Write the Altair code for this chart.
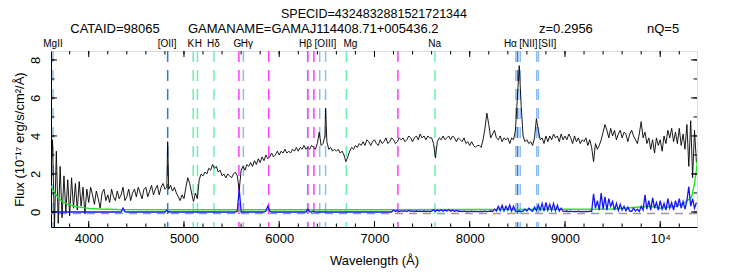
import altair as alt
import pandas as pd

# ---------------- data ----------------
WAVE_START = 3600
WAVE_STEP = 20

# observed flux (10^-17 erg/s/cm^2/A), 5 samples per 100 A, starting at 3600 A
FLUX = [
    1.5, 3.8, -0.9, 3.2, -0.6,   # 3600
    2.4, -0.3, 1.9, 0.0, 1.7,    # 3700
    -0.2, 1.8, 0.2, 1.5, 0.1,    # 3800
    1.6, 0.3, 1.3, -0.1, 1.2,    # 3900
    0.5, 1.3, 0.9, 0.4, 1.1,     # 4000
    0.7, 0.2, 1.0, 1.2, 0.6,     # 4100
    0.9, 0.5, 1.2, 0.8, 0.6,     # 4200
    1.1, 0.7, 0.9, 1.3, 0.6,     # 4300
    0.8, 1.2, 0.6, 1.0, 1.2,     # 4400
    0.8, 1.3, 1.0, 0.7, 1.2,     # 4500
    1.3, 0.8, 1.1, 1.4, 0.9,     # 4600
    1.2, 1.4, 0.9, 1.3, 1.5,     # 4700
    1.2, 1.3, 1.2, 1.4, 1.1,     # 4800
    1.3, 1.0, 0.8, 0.6, 0.9,     # 4900
    0.7, 1.3, 1.8, 1.5, 1.0,     # 5000
    0.55, 1.0, 0.7, 1.7, 2.0,    # 5100
    1.9, 2.1, 2.0, 2.3, 2.2,     # 5200
    2.5, 2.3, 2.4, 2.1, 2.2,     # 5300
    1.9, 2.0, 1.8, 2.0, 1.9,     # 5400
    1.8, 2.0, 2.1, 1.9, 1.15,    # 5500
    2.2, 2.4, 2.2, 2.5, 2.4,     # 5600
    2.6, 2.4, 2.7, 2.5, 2.8,     # 5700
    2.6, 2.9, 2.7, 3.0, 2.8,     # 5800
    2.9, 3.1, 2.9, 3.0, 3.2,     # 5900
    3.0, 3.2, 3.1, 3.3, 3.1,     # 6000
    3.2, 3.1, 3.3, 3.2, 3.4,     # 6100
    3.2, 3.4, 3.3, 3.5, 3.3,     # 6200
    3.4, 3.3, 3.5, 3.4, 3.3,     # 6300
    3.6, 4.2, 3.5, 3.6, 4.0,     # 6400
    3.7, 3.3, 3.4, 3.2, 3.3,     # 6500
    3.2, 3.3, 3.1, 3.2, 3.0,     # 6600
    2.65, 2.9, 3.2, 3.4, 3.3,    # 6700
    3.5, 3.4, 3.6, 3.5, 3.7,     # 6800
    3.5, 3.8, 3.7, 3.5, 3.7,     # 6900
    3.8, 3.6, 3.5, 3.8, 3.6,     # 7000
    3.7, 3.9, 3.6, 3.7, 3.9,     # 7100
    3.8, 3.6, 3.7, 3.9, 3.8,     # 7200
    3.9, 3.7, 3.8, 4.0, 3.9,     # 7300
    3.7, 3.9, 4.0, 3.8, 4.1,     # 7400
    3.9, 4.0, 3.8, 4.0, 3.9,     # 7500
    3.9, 3.6, 2.85, 3.7, 3.9,    # 7600
    3.8, 4.0, 3.8, 3.9, 4.0,     # 7700
    3.8, 4.0, 3.9, 3.7, 3.9,     # 7800
    3.8, 3.7, 3.9, 3.6, 3.7,     # 7900
    3.5, 3.7, 3.5, 3.4, 3.5,     # 8000
    3.5, 3.4, 3.8, 4.4, 5.2,     # 8100
    4.6, 3.9, 4.1, 4.3, 3.9,     # 8200
    3.8, 4.0, 3.7, 3.9, 3.8,     # 8300
    3.9, 3.6, 3.9, 3.8, 4.3,     # 8400
    6.0, 7.7, 5.6, 4.0, 3.7,     # 8500
    3.8, 3.6, 3.7, 3.5, 3.9,     # 8600
    4.9, 4.3, 3.8, 3.9, 3.6,     # 8700
    4.0, 3.7, 4.0, 3.8, 4.1,     # 8800
    3.9, 4.0, 3.7, 4.1, 3.8,     # 8900
    4.0, 3.8, 4.1, 3.9, 3.6,     # 9000
    4.0, 3.7, 3.9, 3.6, 3.8,     # 9100
    3.7, 3.9, 3.5, 3.8, 3.4,     # 9200
    2.65, 3.6, 3.3, 3.5, 3.8,    # 9300
    4.2, 4.6, 4.3, 3.9, 4.4,     # 9400
    4.0, 4.3, 3.8, 4.1, 4.3,     # 9500
    3.9, 4.2, 4.1, 3.7, 4.1,     # 9600
    4.3, 4.0, 3.8, 3.6, 4.1,     # 9700
    4.75, 3.9, 4.2, 3.6, 3.9,    # 9800
    3.3, 3.8, 3.1, 3.9, 3.5,     # 9900
    3.8, 3.2, 4.0, 3.6, 4.3,     # 10000
    3.9, 4.4, 3.7, 4.2, 3.6,     # 10100
    4.4, 3.5, 4.1, 3.3, 4.6,     # 10200
    2.4, 4.8, 1.8, 4.3, 2.6,     # 10300
]

# narrow emission peaks between grid samples
PEAK_WAVE = [4829, 6487]
PEAK_FLUX = [3.7, 5.45]

# sky residual (blue), same grid
SKY = (
    [0.0] * 35 +                              # 3600-4299
    [0.0, 0.0, 0.0, 0.2, 0.02] +              # 4300
    [0.0] * 20 +                              # 4400-4799
    [0.0, 0.1, 0.0, 0.0, 0.0] +               # 4800
    [0.0] * 30 +                              # 4900-5499
    [0.0, 0.0, 0.0, 0.05, 1.2] +              # 5500
    [0.0] * 10 +                              # 5600-5799
    [0.0, 0.0, 0.0, 0.05, 0.3] +              # 5800
    [0.05, 0.0, 0.0, 0.0, 0.0] +              # 5900
    [0.0] * 15 +                              # 6000-6299
    [0.15, 0.02, 0.0, 0.05, 0.0] +            # 6300
    [0.0] * 40 +                              # 6400-7199
    [0.1, 0.03, 0.08, 0.02, 0.06,             # 7200
     0.03, 0.07, 0.02, 0.08, 0.03,            # 7300
     0.06, 0.02, 0.05, 0.03, 0.04,            # 7400
     0.02, 0.05, 0.02, 0.04, 0.02,            # 7500
     0.04, 0.12, 0.03, 0.1, 0.05,             # 7600
     0.12, 0.04, 0.1, 0.05, 0.13,             # 7700
     0.04, 0.1, 0.03, 0.08, 0.04,             # 7800
     0.05, 0.02, 0.04, 0.02, 0.03,            # 7900
     0.02, 0.04, 0.02, 0.03, 0.02,            # 8000
     0.02, 0.03, 0.02, 0.04, 0.02,            # 8100
     0.03, 0.05, 0.02, 0.15, 0.05,            # 8200
     0.3, 0.08, 0.35, 0.06, 0.3,              # 8300
     0.1, 0.37, 0.05, 0.3, 0.04,              # 8400
     0.03, 0.05, 0.02, 0.04, 0.15,            # 8500
     0.05, 0.2, 0.1, 0.04, 0.25,              # 8600
     0.08, 0.35, 0.1, 0.45, 0.05,             # 8700
     0.5, 0.1, 0.4, 0.08, 0.45,               # 8800
     0.06, 0.35, 0.05, 0.2, 0.04,             # 8900
     0.03, 0.05, 0.02, 0.04, 0.02,            # 9000
     0.03, 0.02, 0.04, 0.02, 0.03,            # 9100
     0.02, 0.03, 0.02, 0.04, 0.03,            # 9200
     0.95, 0.2, 0.6, 0.1, 1.0,                # 9300
     0.15, 0.8, 0.1, 0.7, 0.3,                # 9400
     0.55, 0.1, 0.45, 0.08, 0.4,              # 9500
     0.1, 0.3, 0.06, 0.25, 0.05,              # 9600
     0.04, 0.2, 0.05, 0.15, 0.03,             # 9700
     0.3, 0.1, 0.9, 0.15, 0.6,                # 9800
     0.1, 0.75, 0.2, 0.5, 0.1,                # 9900
     0.6, 0.15, 0.45, 0.1, 0.7,               # 10000
     0.2, 0.5, 0.1, 0.6, 0.25,                # 10100
     0.7, 0.2, 0.55, 0.15, 0.6,               # 10200
     1.33, 0.3, 0.7, 0.2, 0.5]                # 10300
)

# error spectrum (green)
GREEN_WAVE = [3600, 3640, 3680, 3720, 3780, 3850, 3920, 4000, 4100, 4300, 5000, 6000,
              7000, 8000, 9000, 9500, 9900, 10000, 10160, 10250, 10330, 10360, 10380, 10390]
GREEN_FLUX = [1.4, 1.0, 0.75, 0.55, 0.4, 0.3, 0.24, 0.19, 0.16, 0.13, 0.12, 0.12,
              0.12, 0.13, 0.14, 0.16, 0.3, 0.2, 0.3, 0.45, 0.8, 1.5, 2.2, 2.7]

# marked spectral features (observed wavelengths)
LINE_WAVE = [3625, 4829, 5097, 5142, 5315, 5577, 5624, 5890, 6298, 6300, 6364,
             6425, 6487, 6705, 7246, 7635, 8484, 8503, 8530, 8703, 8721]
LINE_KIND = ["emission", "strong", "absorption", "absorption", "absorption", "sky",
             "emission", "sky", "emission", "sky", "sky", "emission", "emission",
             "absorption", "sky", "absorption", "emission", "strong", "emission",
             "emission", "emission"]
LABEL_TEXT = ["MgII", "[OII]", "K", "H", "Hδ", "G", "Hγ", "Hβ", "[OIII]", "Mg",
              "Na", "Hα", "[NII]", "[SII]"]
LABEL_WAVE = [3625, 4823, 5072, 5150, 5310, 5560, 5660, 6275, 6485, 6747,
              7631, 8427, 8616, 8815]

X_MAJOR = [4000, 5000, 6000, 7000, 8000, 9000, 10000]
X_MINOR = [3800, 4000, 4200, 4400, 4600, 4800, 5000, 5200, 5400, 5600, 5800, 6000,
           6200, 6400, 6600, 6800, 7000, 7200, 7400, 7600, 7800, 8000, 8200, 8400,
           8600, 8800, 9000, 9200, 9400, 9600, 9800, 10000, 10200]
Y_MAJOR = [0, 2, 4, 6, 8]
Y_MINOR = [0, 1, 2, 3, 4, 5, 6, 7, 8]

HEAD_SPECID = "SPECID=4324832881521721344"
HEAD_CATAID = "CATAID=98065"
HEAD_NAME = "GAMANAME=GAMAJ114408.71+005436.2"
HEAD_Z = "z=0.2956"
HEAD_NQ = "nQ=5"

# ---------------- chart ----------------
W, H = 646, 176
FONT = "Liberation Sans"

wave = [WAVE_START + WAVE_STEP * i for i in range(len(FLUX))]
spec = pd.DataFrame({"wave": wave + PEAK_WAVE, "flux": FLUX + PEAK_FLUX}).sort_values("wave")
sky = pd.DataFrame({"wave": wave, "flux": SKY})
err = pd.DataFrame({"wave": GREEN_WAVE, "flux": GREEN_FLUX})
lines = pd.DataFrame({"wave": LINE_WAVE, "kind": LINE_KIND})
labels = pd.DataFrame({"wave": LABEL_WAVE, "text": LABEL_TEXT})

xs = alt.Scale(domain=[3604, 10386], nice=False, zero=False)
ys = alt.Scale(domain=[-0.79, 8.47], nice=False, zero=False)

x_axis = alt.Axis(values=X_MAJOR, ticks=False, grid=False, domainColor="black",
                  labelExpr="datum.value == 10000 ? '10⁴' : datum.value",
                  labelFont=FONT, labelFontSize=13, labelColor="black",
                  labelPadding=5, title="Wavelength (Å)", titleFont=FONT,
                  titleFontSize=13, titleFontWeight="normal", titleColor="black",
                  titlePadding=9)
y_axis = alt.Axis(values=Y_MAJOR, ticks=False, grid=False, domainColor="black",
                  labelAngle=270, labelFont=FONT, labelFontSize=13,
                  labelColor="black", labelPadding=9,
                  title="Flux (10⁻¹⁷ erg/s/cm²/Å)", titleFont=FONT,
                  titleFontSize=13, titleFontWeight="normal", titleColor="black",
                  titlePadding=3)

line_rules = alt.Chart(lines).mark_rule(strokeDash=[11, 8], strokeWidth=1.5).encode(
    x=alt.X("wave:Q", scale=xs, axis=x_axis),
    color=alt.Color("kind:N", legend=None,
                    scale=alt.Scale(domain=["strong", "emission", "absorption", "sky"],
                                    range=["#2a7ae2", "#8cbcf2", "#6cf0b0", "#ff3cff"])),
)

zero_line = alt.Chart(sky).mark_rule(color="#9a9a9a", strokeDash=[8, 6], strokeWidth=1.5,
                                      yOffset=1.5).encode(
    y=alt.Y("z:Q", scale=ys, axis=y_axis)
).transform_aggregate(z="min(flux)")

black = alt.Chart(spec).mark_line(color="black", strokeWidth=0.9, clip=True).encode(
    x=alt.X("wave:Q", scale=xs), y=alt.Y("flux:Q", scale=ys))

green = alt.Chart(err).mark_line(color="#1ee61e", strokeWidth=1.4, clip=True).encode(
    x=alt.X("wave:Q", scale=xs), y=alt.Y("flux:Q", scale=ys))

blue = alt.Chart(sky).mark_line(color="#1414ff", strokeWidth=1.3, clip=True).encode(
    x=alt.X("wave:Q", scale=xs), y=alt.Y("flux:Q", scale=ys))

xmaj = pd.DataFrame({"v": X_MAJOR})
xmin = pd.DataFrame({"v": X_MINOR})
ymaj = pd.DataFrame({"v": Y_MAJOR})
ymin = pd.DataFrame({"v": Y_MINOR})


def xticks(df, length):
    bot = alt.Chart(df).mark_rule(color="black", strokeWidth=1).encode(
        x=alt.X("v:Q", scale=xs), y=alt.value(H), y2=alt.value(H - length))
    top = alt.Chart(df).mark_rule(color="black", strokeWidth=1).encode(
        x=alt.X("v:Q", scale=xs), y=alt.value(0), y2=alt.value(length))
    return [bot, top]


def yticks(df, length):
    left = alt.Chart(df).mark_rule(color="black", strokeWidth=1).encode(
        y=alt.Y("v:Q", scale=ys), x=alt.value(0), x2=alt.value(length))
    right = alt.Chart(df).mark_rule(color="black", strokeWidth=1).encode(
        y=alt.Y("v:Q", scale=ys), x=alt.value(W), x2=alt.value(W - length))
    return [left, right]


label_marks = alt.Chart(labels).mark_text(font=FONT, fontSize=10, baseline="middle",
                                          color="black", y=-7).encode(
    x=alt.X("wave:Q", scale=xs), text="text:N")


def head(txt, x, y, align, baseline="middle", size=13):
    return alt.Chart(pd.DataFrame({"t": [txt]})).mark_text(
        font=FONT, fontSize=size, align=align, baseline=baseline, color="black", x=x, y=y
    ).encode(text="t:N")


heads = [head(HEAD_SPECID, 323, -43, "center", "top", 12.5),
         head(HEAD_CATAID, 64, -22, "center"),
         head(HEAD_NAME, 137, -22, "left"), head(HEAD_Z, 488, -22, "left"),
         head(HEAD_NQ, 596, -22, "left")]

chart = alt.layer(
    line_rules, zero_line, black, green, blue,
    *xticks(xmaj, 6), *xticks(xmin, 3.5), *yticks(ymaj, 6), *yticks(ymin, 3.5),
    label_marks, *heads,
).properties(
    width=W, height=H,
    autosize=alt.AutoSizeParams(type="none"),
    padding={"left": 43, "top": 43, "right": 35, "bottom": 45},
).configure_view(stroke="black", strokeWidth=1).configure(background="white")

chart.save("out.html", embed_options={"renderer": "svg", "actions": False})
